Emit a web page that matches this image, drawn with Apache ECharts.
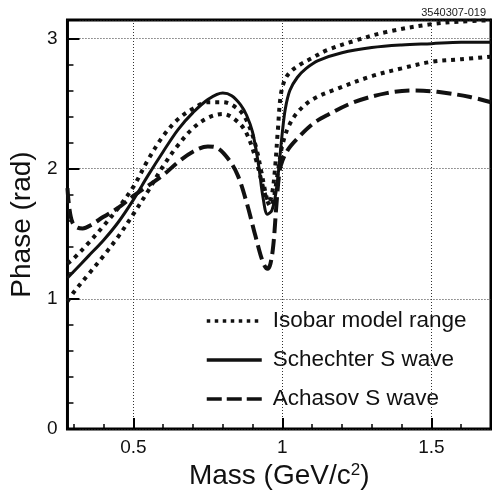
<!DOCTYPE html>
<html><head><meta charset="utf-8">
<script src="https://cdn.jsdelivr.net/npm/echarts@6/dist/echarts.min.js"></script>
<style>html,body{margin:0;padding:0;background:#fff}#c{width:492px;height:495px}</style>
</head><body><div id="c"></div>
<script>
// ---- data ----
const massIsoHi  = [0.279,0.3,0.35,0.4,0.45,0.5,0.55,0.6,0.65,0.7,0.75,0.8,0.85,0.88,0.91,0.93,0.945,0.955,0.965,0.975,0.985,0.995,1.01,1.03,1.06,1.1,1.15,1.24,1.35,1.5,1.6,1.7];
const phaseIsoHi = [1.27,1.31,1.43,1.56,1.70,1.86,2.07,2.25,2.38,2.46,2.51,2.51,2.46,2.37,2.18,1.97,1.80,1.74,1.80,1.99,2.30,2.57,2.69,2.75,2.80,2.85,2.91,2.98,3.05,3.11,3.13,3.14];

const massIsoLo  = [0.279,0.3,0.35,0.4,0.45,0.5,0.55,0.6,0.65,0.7,0.75,0.8,0.85,0.88,0.91,0.935,0.95,0.96,0.97,0.98,0.99,1.0,1.02,1.05,1.1,1.18,1.3,1.4,1.5,1.6,1.7];
const phaseIsoLo = [0.98,1.05,1.19,1.33,1.48,1.65,1.83,2.02,2.18,2.31,2.39,2.42,2.36,2.27,2.08,1.86,1.75,1.71,1.76,1.90,2.05,2.18,2.32,2.43,2.53,2.61,2.71,2.77,2.82,2.84,2.86];

const massSch  = [0.279,0.3,0.35,0.4,0.45,0.5,0.55,0.6,0.65,0.7,0.75,0.8,0.83,0.86,0.88,0.9,0.92,0.935,0.95,0.965,0.98,0.99,1.0,1.01,1.025,1.05,1.08,1.12,1.2,1.3,1.4,1.5,1.6,1.7];
const phaseSch = [1.16,1.21,1.33,1.45,1.59,1.76,1.95,2.13,2.30,2.43,2.53,2.58,2.56,2.49,2.41,2.28,2.03,1.78,1.65,1.68,1.84,2.05,2.28,2.46,2.60,2.70,2.77,2.83,2.89,2.93,2.95,2.96,2.97,2.97];

const massAch  = [0.279,0.285,0.295,0.31,0.33,0.36,0.4,0.45,0.5,0.55,0.6,0.65,0.7,0.75,0.78,0.82,0.85,0.88,0.91,0.935,0.95,0.96,0.97,0.98,0.99,1.0,1.02,1.05,1.1,1.15,1.24,1.35,1.44,1.52,1.63,1.7];
const phaseAch = [1.85,1.70,1.59,1.55,1.54,1.57,1.63,1.70,1.79,1.87,1.95,2.05,2.13,2.17,2.16,2.07,1.95,1.74,1.48,1.28,1.23,1.27,1.42,1.72,1.97,2.06,2.15,2.23,2.34,2.41,2.51,2.58,2.60,2.59,2.55,2.51];

const xMajorTicks = [0.5, 1, 1.5];
const xMinorTicks = [0.3,0.4,0.6,0.7,0.8,0.9,1.1,1.2,1.3,1.4,1.6,1.7];
const legendNames = ['Isobar model range', 'Schechter S wave', 'Achasov S wave'];
const figId = '3540307-019';

const xMin = 0.279, xMax = 1.7, yMin = 0, yMax = Math.PI;
const FONT = '"Liberation Sans", Arial, Helvetica, sans-serif';
const zip = (a, b) => a.map((v, i) => [v, b[i]]);

const dottedStyle = {color: '#111', width: 4, type: [4, 5], cap: 'butt'};
const solidStyle  = {color: '#111', width: 3, type: 'solid'};
const dashedStyle = {color: '#111', width: 4, type: [15, 6], cap: 'butt'};

const chart = echarts.init(document.getElementById('c'), null, {renderer: 'canvas'});
const lineBase = {type: 'line', showSymbol: false, symbol: 'none', smooth: 0.35, clip: true, animation: false};

chart.setOption({
  animation: false,
  backgroundColor: '#fff',
  title: {text: figId, right: 1, top: 2, textStyle: {fontSize: 11, fontWeight: 'normal', color: '#222', fontFamily: FONT}},
  grid: {left: 65, top: 20, right: 1, bottom: 66, show: true, borderColor: '#000', borderWidth: 3, backgroundColor: 'transparent'},
  legend: {
    orient: 'vertical', left: 200, top: 304, itemWidth: 55, itemHeight: 14, itemGap: 15,
    selectedMode: false,
    data: [
      {name: legendNames[0], lineStyle: {width: 3.5, type: [3.5, 4.5], cap: 'butt'}},
      {name: legendNames[1], lineStyle: {width: 3.5}},
      {name: legendNames[2], lineStyle: {width: 3.5, type: [15, 5], cap: 'butt'}}
    ],
    itemStyle: {opacity: 0, borderWidth: 0},
    textStyle: {fontSize: 22.5, color: '#111', fontFamily: FONT, padding: [0, 0, 0, 6], lineHeight: 24}
  },
  xAxis: [{
    type: 'value', min: xMin, max: xMax, position: 'bottom',
    axisLine: {show: false},
    axisTick: {show: true, inside: true, length: 11, customValues: xMajorTicks, lineStyle: {color: '#000', width: 2}},
    axisLabel: {customValues: xMajorTicks, fontSize: 19, color: '#111', fontFamily: FONT, margin: 9},
    splitLine: {show: true, lineStyle: {type: [1, 2], color: '#333', width: 1}},
    name: 'Mass (GeV/c{sup|2})', nameLocation: 'middle', nameGap: 22,
    nameTextStyle: {fontSize: 28, color: '#111', fontFamily: FONT,
      rich: {sup: {fontSize: 17, verticalAlign: 'top', color: '#111', fontFamily: FONT, padding: [0, 0, 10, 0]}}}
  }, {
    type: 'value', min: xMin, max: xMax, position: 'bottom',
    axisLine: {show: false}, axisLabel: {show: false}, splitLine: {show: false},
    axisTick: {show: true, inside: true, length: 5, customValues: xMinorTicks, lineStyle: {color: '#000', width: 1.5}}
  }],
  yAxis: {
    type: 'value', min: yMin, max: yMax, interval: 1,
    axisLine: {show: false},
    axisTick: {show: true, inside: true, length: 12, lineStyle: {color: '#000', width: 2}},
    minorTick: {show: true, splitNumber: 5, length: 6, lineStyle: {color: '#000', width: 1.5}},
    axisLabel: {fontSize: 19, color: '#111', fontFamily: FONT, margin: 10, showMaxLabel: false},
    splitLine: {show: true, lineStyle: {type: [1, 2], color: '#333', width: 1}},
    name: 'Phase (rad)', nameLocation: 'middle', nameGap: 30,
    nameTextStyle: {fontSize: 28, color: '#111', fontFamily: FONT}
  },
  series: [
    Object.assign({}, lineBase, {name: legendNames[0], data: zip(massIsoHi, phaseIsoHi), z: 3,
      lineStyle: dottedStyle, itemStyle: {color: '#111'}}),
    Object.assign({}, lineBase, {name: legendNames[0], data: zip(massIsoLo, phaseIsoLo), z: 3,
      lineStyle: dottedStyle, itemStyle: {color: '#111'}}),
    Object.assign({}, lineBase, {name: legendNames[1], data: zip(massSch, phaseSch), z: 4,
      lineStyle: solidStyle, itemStyle: {color: '#111'}}),
    Object.assign({}, lineBase, {name: legendNames[2], data: zip(massAch, phaseAch), z: 4,
      lineStyle: dashedStyle, itemStyle: {color: '#111'}})
  ]
});
</script></body></html>
